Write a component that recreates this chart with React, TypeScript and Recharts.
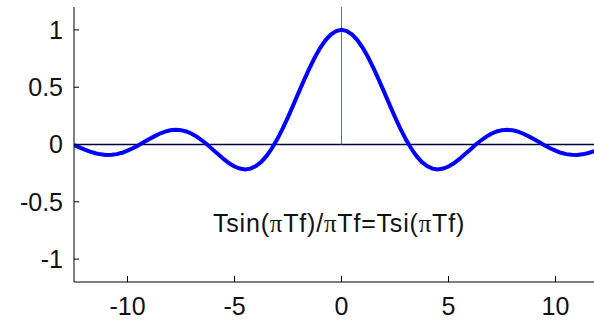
import { LineChart, Line, XAxis, YAxis, ReferenceLine } from "recharts";

// frequency axis, f (step 0.25)
const FREQ = [
  -12.5, -12.25, -12, -11.75, -11.5, -11.25, -11, -10.75, -10.5, -10.25,
  -10, -9.75, -9.5, -9.25, -9, -8.75, -8.5, -8.25, -8, -7.75,
  -7.5, -7.25, -7, -6.75, -6.5, -6.25, -6, -5.75, -5.5, -5.25,
  -5, -4.75, -4.5, -4.25, -4, -3.75, -3.5, -3.25, -3, -2.75,
  -2.5, -2.25, -2, -1.75, -1.5, -1.25, -1, -0.75, -0.5, -0.25,
  0,
  0.25, 0.5, 0.75, 1, 1.25, 1.5, 1.75, 2, 2.25, 2.5,
  2.75, 3, 3.25, 3.5, 3.75, 4, 4.25, 4.5, 4.75, 5,
  5.25, 5.5, 5.75, 6, 6.25, 6.5, 6.75, 7, 7.25, 7.5,
  7.75, 8, 8.25, 8.5, 8.75, 9, 9.25, 9.5, 9.75, 10,
  10.25, 10.5, 10.75, 11, 11.25, 11.5, 11.75, 12, 12.25, 12.5,
];

// T·si(πTf)
const AMPL = [
  -0.005, -0.025, -0.045, -0.062, -0.076, -0.086, -0.091, -0.09, -0.084, -0.072,
  -0.054, -0.033, -0.008, 0.019, 0.046, 0.071, 0.094, 0.112, 0.124, 0.128,
  0.125, 0.114, 0.094, 0.067, 0.033, -0.005, -0.047, -0.088, -0.128, -0.164,
  -0.192, -0.21, -0.217, -0.211, -0.189, -0.152, -0.1, -0.033, 0.047, 0.139,
  0.239, 0.346, 0.455, 0.562, 0.665, 0.759, 0.841, 0.909, 0.959, 0.99,
  1,
  0.99, 0.959, 0.909, 0.841, 0.759, 0.665, 0.562, 0.455, 0.346, 0.239,
  0.139, 0.047, -0.033, -0.1, -0.152, -0.189, -0.211, -0.217, -0.21, -0.192,
  -0.164, -0.128, -0.088, -0.047, -0.005, 0.033, 0.067, 0.094, 0.114, 0.125,
  0.128, 0.124, 0.112, 0.094, 0.071, 0.046, 0.019, -0.008, -0.033, -0.054,
  -0.072, -0.084, -0.09, -0.091, -0.086, -0.076, -0.062, -0.045, -0.025, -0.005,
];

const X_TICKS = [-10, -5, 0, 5, 10];
const Y_TICKS = [-1, -0.5, 0, 0.5, 1];
const CAPTION = ["Tsin(", "\u03c0", "Tf)/", "\u03c0", "Tf=Tsi(", "\u03c0", "Tf)"];

const data = FREQ.map((f, i) => ({ f, v: AMPL[i] }));

const FONT = "'Liberation Sans', Arial, Helvetica, sans-serif";
const tickStyle = { fill: "#111", fontSize: 25, fontFamily: FONT };

export default function App() {
  return (
    <div style={{ position: "absolute", left: 0, top: 0, width: 594, height: 322, overflow: "hidden", background: "#fff" }}>
      <LineChart width={612} height={322} data={data} margin={{ top: 7, right: 3, bottom: 0, left: 0 }}>
        <XAxis
          dataKey="f" type="number" domain={[-12.5, 12.5]} ticks={X_TICKS} interval={0}
          allowDataOverflow height={40} tickSize={-6} tickMargin={21}
          axisLine={{ stroke: "#000", strokeWidth: 1 }} tickLine={{ stroke: "#000" }} tick={tickStyle}
        />
        <YAxis
          type="number" domain={[-1.2, 1.2]} ticks={Y_TICKS} interval={0}
          allowDataOverflow width={74} tickSize={-5} tickMargin={16}
          axisLine={{ stroke: "#000", strokeWidth: 1 }} tickLine={{ stroke: "#000" }} tick={tickStyle}
        />
        <ReferenceLine y={0} stroke="#000040" strokeWidth={1.5} />
        <ReferenceLine segment={[{ x: 0, y: 0 }, { x: 0, y: 1.2 }]} stroke="#5c5cf5" strokeWidth={1} />
        <Line
          type="linear" dataKey="v" stroke="#0000ff" strokeWidth={4}
          dot={false} isAnimationActive={false}
        />
      </LineChart>
      <svg width={594} height={322} style={{ position: "absolute", left: 0, top: 0, pointerEvents: "none" }}>
        <text x={339} y={232} textAnchor="middle" fontSize={25} letterSpacing={0.8} fontFamily={FONT} fill="#111">
          {CAPTION.map((s, i) =>
            s === "\u03c0"
              ? <tspan key={i} fontFamily="'Liberation Serif', 'Times New Roman', serif">{s}</tspan>
              : <tspan key={i}>{s}</tspan>
          )}
        </text>
      </svg>
    </div>
  );
}
